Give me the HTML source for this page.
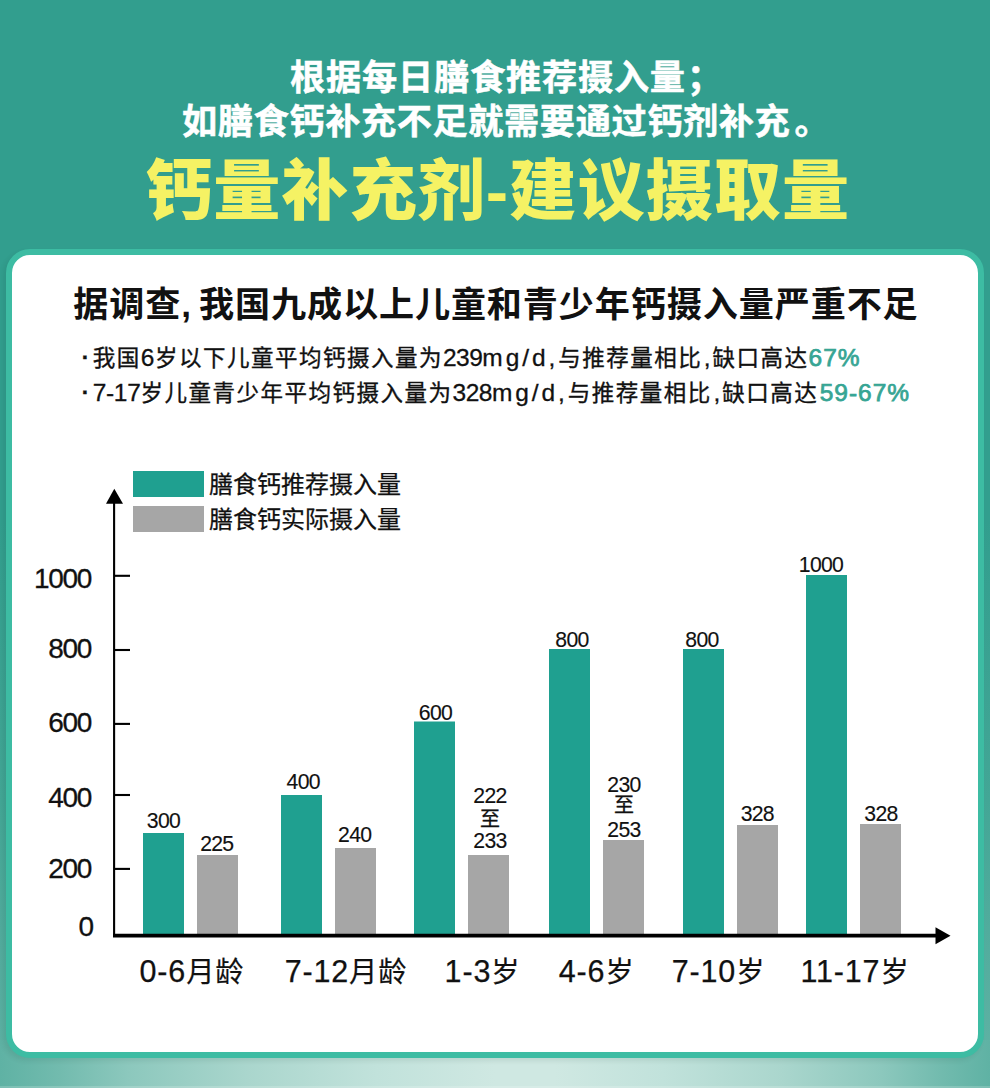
<!DOCTYPE html>
<html lang="zh-CN">
<head>
<meta charset="utf-8">
<title>钙量补充剂-建议摄取量</title>
<style>
  html, body { margin: 0; padding: 0; }
  body {
    width: 990px; height: 1088px; position: relative; overflow: hidden;
    font-family: "Liberation Sans", "Noto Sans CJK SC", sans-serif;
    background: linear-gradient(to bottom, #329e8e 0px, #329e8e 520px, #43a696 800px, #5fb2a4 1060px, #62b4a6 1088px);
  }
  #glow {
    left: 0; top: 1040px; width: 990px; height: 48px;
    background: linear-gradient(to right, #5fb2a4 0%, #72bbae 6%, #8cc8bd 13%, #aad6cd 25%, #c1e2db 38%, #cfe8e2 50%, #cfe8e2 56%, #c1e2db 67%, #aad6cd 79%, #8cc8bd 89%, #72bbae 95%, #5fb2a4 100%);
  }
  #glow:after { content: ""; position: absolute; left: 0; right: 0; bottom: 0; height: 2px; background: rgba(255,255,255,0.18); }
  .abs { position: absolute; white-space: nowrap; }
  .sub {
    color: #fff; font-weight: 700; -webkit-text-stroke: 0.5px #fff;
    font-size: 35.2px; line-height: 44px; letter-spacing: 0.6px;
  }
  #sub1 { top: 56.3px; left: 290px; letter-spacing: 0.8px; }
  #sub1 span { margin-left: 1px; }
  #sub2 span { margin-left: 4px; }
  #sub2 { top: 99.8px; left: 182px; }
  #title {
    left: 144.5px; color: #f5f264; font-weight: 900; letter-spacing: 1.05px;
    font-size: 65.4px; line-height: 80px; top: 152px;
    transform: scaleX(1.026); transform-origin: 0 0;
  }
  #card {
    left: 6px; top: 249px; width: 966px; height: 797px;
    border: 6px solid #3dbca3; border-radius: 24px; background: #fff;
    box-shadow: -3px 3px 5px rgba(0,40,30,0.09);
  }
  #h2 {
    left: 73.2px; top: 282px; font-size: 35.1px; letter-spacing: 0.9px; line-height: 46px; font-weight: 700; color: #111;
  }
  .bul { left: 81.7px; font-size: 22.5px; line-height: 30px; color: #111; letter-spacing: 1.5px; font-weight: 400; -webkit-text-stroke: 0.35px #111; }
  #b1 { top: 342.5px; }
  #b2 { top: 377.5px; }
  .bul b { color: #37a594; font-weight: 500; }
  .bul b i { font-weight: 400; -webkit-text-stroke: 0.75px #37a594; letter-spacing: 1px; }
  .bul i { font-style: normal; font-size: 24.5px; letter-spacing: 0.6px; font-weight: 400; -webkit-text-stroke: 0.3px #111; position: relative; top: 0.5px; }
  .bul i i { top: 0; }
  #b2d { margin-left: 1.5px; }
  .bul i.u { letter-spacing: 2.9px; }
  .bul i.n { letter-spacing: -0.5px; }
  .bul i.z { letter-spacing: -0.3px; }
  .bul i.c { margin: 0 1.3px 0 1.7px; }
  .bul .dot { display: inline-block; width: 11px; font-weight: 700; position: relative; top: -1px; left: 0; letter-spacing: 0; }
  svg text { font-family: "Liberation Sans", "Noto Sans CJK SC", sans-serif; fill: #111; }
</style>
</head>
<body>
  <div class="abs sub" id="sub1">根据每日膳食推荐摄入量<span>；</span></div>
  <div class="abs sub" id="sub2">如膳食钙补充不足就需要通过钙剂补充<span>。</span></div>
  <div class="abs" id="title">钙量补充剂-建议摄取量</div>

  <div class="abs" id="glow"></div>
  <div class="abs" id="card"></div>

  <div class="abs" id="h2">据调查<span style="letter-spacing:-0.8px">, </span>我国九成以上儿童和青少年钙摄入量严重不足</div>
  <div class="abs bul" id="b1"><span class="dot">·</span><span id="b1a">我国<i>6</i>岁以下儿童平均钙摄入量为</span><i id="b1b"><i class="n">239</i><i class="u">mg/d,</i></i><span id="b1c">与推荐量相比<i class="c">,</i>缺口高达</span><b id="b1d"><i>67%</i></b></div>
  <div class="abs bul" id="b2"><span class="dot">·</span><i id="b2z" class="z">7-17</i><span id="b2a">岁儿童青少年平均钙摄入量为</span><i id="b2b"><i class="n">328</i><i class="u">mg/d,</i></i><span id="b2c">与推荐量相比<i class="c">,</i>缺口高达</span><b id="b2d"><i>59-67%</i></b></div>

  <svg class="abs" id="chart" style="left:0;top:0" width="990" height="1088" viewBox="0 0 990 1088">
    <!-- legend -->
    <rect x="133" y="471" width="71" height="26" fill="#1fa090"/>
    <rect x="133" y="506" width="71" height="26" fill="#a6a6a6"/>
    <text x="209" y="492.5" font-size="24" stroke="#111" stroke-width="0.25">膳食钙推荐摄入量</text>
    <text x="209" y="527.5" font-size="24" stroke="#111" stroke-width="0.25">膳食钙实际摄入量</text>

    <!-- bars -->
    <g fill="#1fa090">
      <rect x="143" y="833" width="41" height="102"/>
      <rect x="281" y="795" width="41" height="140"/>
      <rect x="414" y="721.5" width="41" height="214"/>
      <rect x="549" y="649" width="41" height="286"/>
      <rect x="683" y="649" width="41" height="286"/>
      <rect x="806" y="575" width="41" height="360"/>
    </g>
    <g fill="#a6a6a6">
      <rect x="197" y="855" width="41" height="80"/>
      <rect x="335" y="848" width="41" height="87"/>
      <rect x="468" y="855" width="41" height="80"/>
      <rect x="603" y="840" width="41" height="95"/>
      <rect x="737" y="825" width="41" height="110"/>
      <rect x="860" y="824" width="41" height="111"/>
    </g>

    <!-- axes -->
    <g stroke="#000" stroke-width="2.1" fill="none">
      <line x1="114.1" y1="500" x2="114.1" y2="937"/>
      <line x1="114" y1="575.8" x2="130" y2="575.8"/>
      <line x1="114" y1="650" x2="130" y2="650"/>
      <line x1="114" y1="723.9" x2="130" y2="723.9"/>
      <line x1="114" y1="795" x2="130" y2="795"/>
      <line x1="114" y1="868.9" x2="130" y2="868.9"/>
    </g>
    <line x1="113" y1="935.7" x2="938" y2="935.7" stroke="#000" stroke-width="3.8"/>
    <polygon points="114.3,488.8 106,503.8 123,503.8" fill="#000"/>
    <polygon points="950.5,935.7 935.5,927.2 935.5,944.2" fill="#000"/>

    <!-- y labels -->
    <g font-size="28" text-anchor="end" letter-spacing="-1.25" stroke="#111" stroke-width="0.3">
      <text x="91.2" y="588">1000</text>
      <text x="91.2" y="657.7">800</text>
      <text x="91.2" y="731.8">600</text>
      <text x="91.2" y="807.2">400</text>
      <text x="91.2" y="878.2">200</text>
      <text x="92.8" y="936.3">0</text>
    </g>

    <!-- value labels -->
    <g font-size="21.2" text-anchor="middle" letter-spacing="-0.7" stroke="#111" stroke-width="0.15">
      <text x="163.5" y="828">300</text>
      <text x="216.8" y="850.6">225</text>
      <text x="303.2" y="789">400</text>
      <text x="354.7" y="842">240</text>
      <text x="435.5" y="719.7">600</text>
      <text x="490" y="802.6">222</text>
      <text x="490" y="826" font-size="20" letter-spacing="0" stroke-width="0.3">至</text>
      <text x="490" y="848">233</text>
      <text x="572" y="647">800</text>
      <text x="624" y="791.7">230</text>
      <text x="624" y="812" font-size="20" letter-spacing="0" stroke-width="0.3">至</text>
      <text x="624" y="836.5">253</text>
      <text x="702" y="647">800</text>
      <text x="757.3" y="821.3">328</text>
      <text x="821" y="572.3">1000</text>
      <text x="881" y="821">328</text>
    </g>

    <!-- x labels -->
    <g font-size="30.5" text-anchor="middle" letter-spacing="0.85" stroke="#111" stroke-width="0.25">
      <text x="192" y="982.2">0-6<tspan font-size="28.3" stroke-width="0.2">月龄</tspan></text>
      <text x="346" y="982.2">7-12<tspan font-size="28.3" stroke-width="0.2">月龄</tspan></text>
      <text x="482.5" y="982.2">1-3<tspan font-size="28.3" stroke-width="0.2">岁</tspan></text>
      <text x="596.7" y="982.2">4-6<tspan font-size="28.3" stroke-width="0.2">岁</tspan></text>
      <text x="718.5" y="982.2">7-10<tspan font-size="28.3" stroke-width="0.2">岁</tspan></text>
      <text x="855" y="982.2">11-17<tspan font-size="28.3" stroke-width="0.2">岁</tspan></text>
    </g>
  </svg>
</body>
</html>
